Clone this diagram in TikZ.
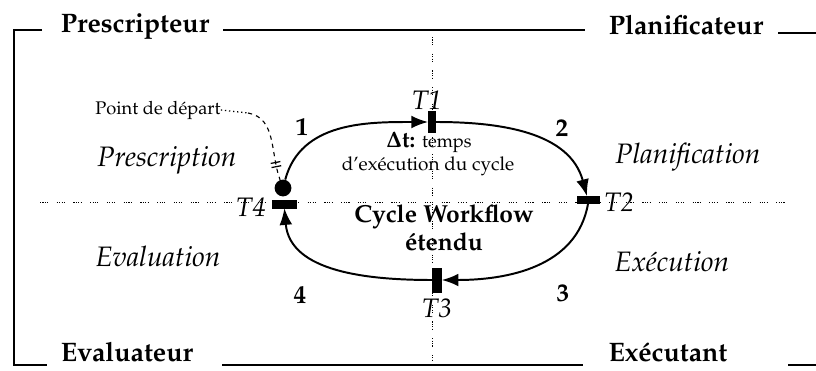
\documentclass[tikz,border=0pt]{standalone}
\usepackage[T1]{fontenc}
\usepackage{mathpazo}
\usetikzlibrary{arrows.meta,decorations.markings}

\begin{document}
\begin{tikzpicture}[x=0.025cm, y=0.025cm, >={Latex[length=4.2mm,width=3.2mm]},
  role/.style={font=\fontsize{19}{21}\selectfont\bfseries, anchor=base, inner sep=0pt},
  phase/.style={font=\fontsize{20}{23}\selectfont\itshape, inner sep=0pt},
  trans/.style={draw, fill=black, inner sep=0pt},
  tlabel/.style={font=\fontsize{19}{21}\selectfont\itshape, inner sep=0pt},
  num/.style={font=\fontsize{18}{20}\selectfont\bfseries, inner sep=0pt},
  grid/.style={line width=0.7pt, dash pattern=on 0.8pt off 0.9pt on 0.8pt off 0.9pt on 0.8pt off 0.9pt on 0.8pt off 6pt},
  flow/.style={line width=1.4pt, ->},
  frame/.style={line width=1.1pt},
]

\useasboundingbox (0,0) rectangle (816,370);

% ==== AXES ====
\coordinate (hl) at (40,168);
\coordinate (hr) at (787,168);
\coordinate (vt) at (432,333);
\coordinate (vb) at (432,8);
\draw[grid] (hl) -- (hr);
\draw[grid] (vt) -- (vb);

% ==== ROLES ====
\node[role] (presc) at (135,337) {Prescripteur};
\node[role] (planif) at (686,335) {Planificateur};
\node[role] (evalr) at (127,9) {Evaluateur};
\node[role] (execr) at (668,9) {Ex\'ecutant};

\draw[frame] (42,340) -- (14,340) -- (14,5) -- (47,5);
\draw[frame] (223,340) -- (585,340);
\draw[frame] (778,337) -- (816,337);
\draw[frame] (222,5) -- (583,5);
\draw[frame] (788,5) -- (816,5);

% ==== PHASES ====
\node[phase] (prescription) at (167,210) {Prescription};
\node[phase] (planification) at (688,213) {Planification};
\node[phase] (evaluation) at (158,114) {Evaluation};
\node[phase] (execution) at (672,109) {Ex\'ecution};

% ==== TRANSITIONS ====
\node[trans, minimum width=0.18cm, minimum height=0.52cm] (t1) at (432,248) {};
\node[trans, minimum width=0.55cm, minimum height=0.18cm] (t2) at (588,170) {};
\node[trans, minimum width=0.22cm, minimum height=0.6cm] (t3) at (437,90) {};
\node[trans, minimum width=0.6cm, minimum height=0.19cm] (t4) at (284,166) {};
\node[circle, fill=black, inner sep=0pt, minimum size=0.42cm] (start) at (283,182) {};

\node[tlabel] (lt1) at (427,270) {T1};
\node[tlabel, anchor=west] (lt2) at (604,168) {T2};
\node[tlabel] (lt3) at (437,62) {T3};
\node[tlabel] (lt4) at (251,163) {T4};

\node[num] (n1) at (302,243) {1};
\node[num] (n2) at (562,242) {2};
\node[num] (n3) at (563,77) {3};
\node[num] (n4) at (300,75) {4};

% ==== CYCLE ====
\draw[flow] (start) to[out=75, in=180] (t1);
\draw[flow] (t1) to[out=0, in=105] (t2);
\draw[flow] (t2.south) to[out=-100, in=0] (t3);
\draw[flow] (t3) to[out=180, in=-85] (t4);

\node[inner sep=0pt] (dt) at (429,228) {\fontsize{16}{18}\selectfont\bfseries$\mathbf{\Delta}$t: \fontsize{13}{15}\selectfont\mdseries temps};
\node[inner sep=0pt, font=\fontsize{13.5}{15}\selectfont] (dtb) at (428,204) {d'ex\'ecution du cycle};
\node[inner sep=0pt, font=\fontsize{17.5}{20}\selectfont\bfseries] (cyc) at (444,153) {Cycle Workflow};
\node[inner sep=0pt, font=\fontsize{17.5}{20}\selectfont\bfseries] (cyc2) at (444,128) {\'etendu};

% ==== START ====
\node[inner sep=0pt, font=\fontsize{13}{15}\selectfont] (pdep) at (158,260) {Point de d\'epart};
\coordinate (pd1) at (248,257);
\draw[line width=0.9pt, dotted] (pdep.east) -- (pd1);
\draw[line width=0.8pt, dashed, postaction={decorate},
  decoration={markings, mark=at position 0.8 with {\draw[solid, line width=0.9pt] (-1.5pt,-3.5pt) -- (-1.5pt,3.5pt) (1.5pt,-3.5pt) -- (1.5pt,3.5pt);}}]
  (pd1) to[out=-10, in=110] (start);

\end{tikzpicture}
\end{document}
